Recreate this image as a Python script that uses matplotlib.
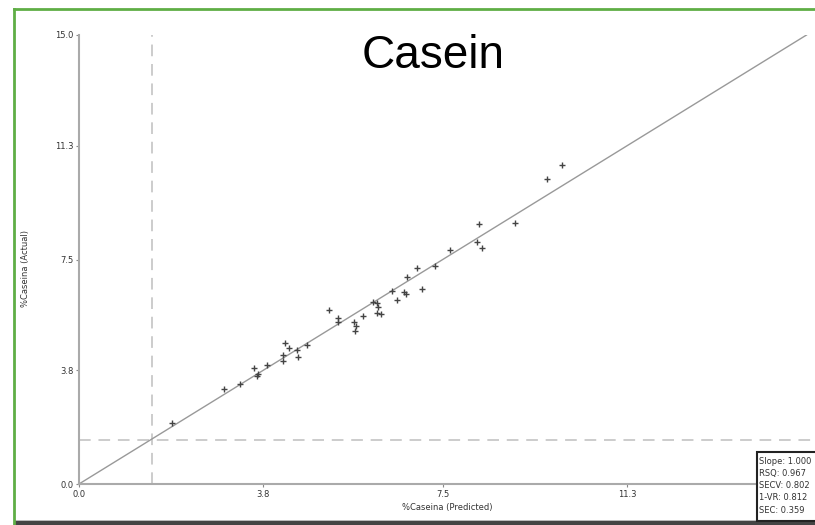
import matplotlib
matplotlib.use("Agg")
import matplotlib.pyplot as plt
from matplotlib.patches import Rectangle
from matplotlib.lines import Line2D

# 예측값 / 실측값 (%Caseina)
predicted = [1.91, 2.98, 3.31, 3.61, 3.66, 3.70, 3.87, 4.20, 4.21, 4.25,
             4.32, 4.49, 4.52, 4.71, 5.15, 5.35, 5.35, 5.68, 5.71, 5.69,
             5.85, 6.07, 6.14, 6.16, 6.14, 6.23, 6.45, 6.55, 6.71, 6.74,
             7.07, 6.77, 6.96, 7.34, 7.65, 8.25, 8.21, 8.30, 8.99, 9.64,
             9.95]
actual = [2.03, 3.16, 3.34, 3.89, 3.62, 3.67, 3.97, 4.11, 4.31, 4.72,
          4.55, 4.48, 4.25, 4.63, 5.80, 5.56, 5.40, 5.42, 5.29, 5.12,
          5.61, 6.09, 6.06, 5.92, 5.70, 5.67, 6.46, 6.15, 6.43, 6.35,
          6.53, 6.93, 7.23, 7.29, 7.83, 8.70, 8.10, 7.88, 8.73, 10.20,
          10.66]

y_ticks = [0.0, 3.8, 7.5, 11.3, 15.0]
y_labels = ["0.0", "3.8", "7.5", "11.3", "15.0"]
x_ticks = [0.0, 3.8, 7.5, 11.3]          # 15.0 은 통계 상자에 가려짐
x_labels = ["0.0", "3.8", "7.5", "11.3"]
cutoff_x = 1.5
cutoff_y = 1.47

stats = ["Slope: 1.000", "RSQ: 0.967", "SECV: 0.802", "1-VR: 0.812", "SEC: 0.359"]

W, H = 815, 525
fig = plt.figure(figsize=(W / 100, H / 100), dpi=100)

# 축 위치 (픽셀 기준)
left, bottom, top = 79, 484, 35
ax = fig.add_axes([left / W, (H - bottom) / H, (W - left) / W, (bottom - top) / H])
ax.set_xlim(0, (W - left) / 48.5)
ax.set_ylim(0, 15.0)

# 1:1 기준선
ax.plot([0, 15], [0, 15], color="#999999", lw=1.0, zorder=2)

# 점선 기준
ax.axvline(cutoff_x, color="#cccccc", lw=1.4, dashes=(6, 4), zorder=1)
ax.axhline(cutoff_y, color="#cccccc", lw=1.4, dashes=(6, 4), zorder=1)

# 데이터 점
ax.plot(predicted, actual, linestyle="none", marker="+", markersize=5,
        markeredgewidth=1.0, color="#444444", zorder=3)

for s in ["top", "right"]:
    ax.spines[s].set_visible(False)
for s in ["left", "bottom"]:
    ax.spines[s].set_color("#aaaaaa")
    ax.spines[s].set_linewidth(1.5)

ax.set_xticks(x_ticks)
ax.set_xticklabels(x_labels)
ax.set_yticks(y_ticks)
ax.set_yticklabels(y_labels)
ax.tick_params(length=2, width=0.8, color="#888888", labelsize=6,
               labelcolor="#333333", pad=2)

ax.set_xlabel("%Caseina (Predicted)", fontsize=6, color="#333333", labelpad=3)
ax.set_ylabel("%Caseina (Actual)", fontsize=6, color="#333333")
ax.yaxis.set_label_coords((30 - left) / (W - left), 0.48)

# 제목
fig.text(433 / W, 1 - 56 / H, "Casein", fontsize=33, family="Liberation Sans",
         ha="center", va="center", color="black")

# 초록 테두리 (좌, 상)
fig.add_artist(Line2D([14 / W, 14 / W], [0, 1 - 9 / H], color="#5fae45", lw=2,
                      transform=fig.transFigure))
fig.add_artist(Line2D([14 / W, 1], [1 - 9 / H, 1 - 9 / H], color="#5fae45", lw=2,
                      transform=fig.transFigure))
# 하단 어두운 띠
fig.add_artist(Rectangle((14 / W, 0), 1, 4 / H, transform=fig.transFigure,
                         facecolor="#444444", edgecolor="none"))
fig.add_artist(Rectangle((14 / W, 4 / H), 1, 1.5 / H, transform=fig.transFigure,
                         facecolor="#bbbbbb", edgecolor="none"))

# 통계 상자
bx0, by0 = 757, 452
fig.add_artist(Rectangle((bx0 / W, 4 / H), (W - bx0 + 5) / W, (H - 4 - by0) / H,
                         transform=fig.transFigure, facecolor="white",
                         edgecolor="#222222", lw=1.5, zorder=5))
for i, line in enumerate(stats):
    fig.text((bx0 + 2) / W, 1 - (461 + i * 12.3) / H, line, fontsize=6,
             color="#333333", ha="left", va="center", zorder=6)

fig.savefig("out.png", dpi=100)
